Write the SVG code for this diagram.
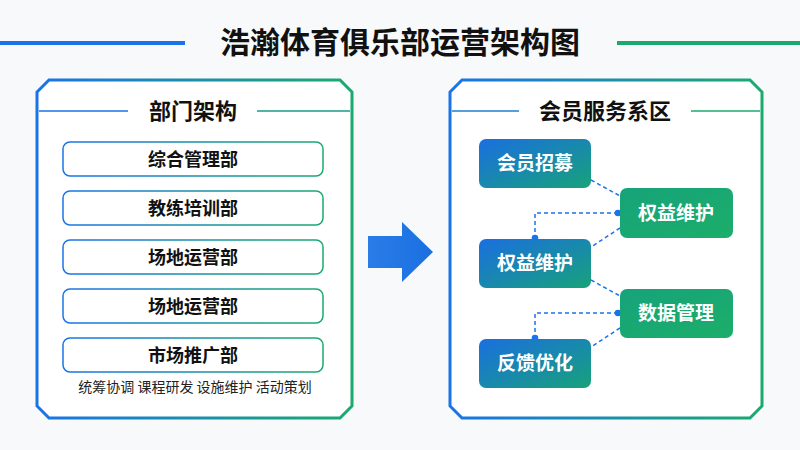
<svg xmlns="http://www.w3.org/2000/svg" width="800" height="450" viewBox="0 0 800 450">
<defs>
<linearGradient id="g" x1="0" y1="0" x2="1" y2="0"><stop offset="0" stop-color="#1a73e8"/><stop offset="1" stop-color="#1aaa6e"/></linearGradient>
<linearGradient id="gb" x1="0" y1="0" x2="1" y2="1"><stop offset="0" stop-color="#1a6fe0"/><stop offset="1" stop-color="#17a27a"/></linearGradient>
<linearGradient id="gg" x1="0" y1="0" x2="1" y2="1"><stop offset="0" stop-color="#16a37a"/><stop offset="1" stop-color="#1cae6a"/></linearGradient>
<linearGradient id="ga" x1="0" y1="0" x2="1" y2="0"><stop offset="0" stop-color="#2a7de8"/><stop offset="1" stop-color="#1a6fe0"/></linearGradient>
<marker id="dot" markerWidth="6" markerHeight="6" refX="3" refY="3"><circle cx="3" cy="3" r="2.2" fill="#1a73e8"/></marker>
</defs>
<style>
.t{font-family:"Noto Sans CJK SC",sans-serif;font-weight:bold;text-anchor:middle}
.ti{font-size:30px;fill:#111}
.h{font-size:22px;fill:#111}
.b{font-size:18px;fill:#111}
.w{font-size:19px;fill:#fff}
.s{font-family:"Noto Sans CJK SC",sans-serif;font-size:14px;fill:#222;text-anchor:middle}
.box{fill:#fff;stroke:url(#g);stroke-width:1.5}
.pan{fill:#fff;stroke:url(#g);stroke-width:3}
.c{fill:none;stroke:#1a73e8;stroke-width:1.5;stroke-dasharray:4 3}
</style>
<rect width="800" height="450" fill="#f7f9fa"/>
<g id="title">
<line x1="0" y1="43" x2="185" y2="43" stroke="#1a73e8" stroke-width="4"/>
<line x1="617" y1="43" x2="800" y2="43" stroke="#1aaa6e" stroke-width="4"/>
<text class="t ti" x="400" y="53">浩瀚体育俱乐部运营架构图</text>
</g>
<g id="left-panel">
<path class="pan" d="M49,80 H340 L352,92 V406 L340,418 H49 L37,406 V92 Z"/>
<line x1="39" y1="111" x2="128" y2="111" stroke="#1a73e8" stroke-width="1.5"/>
<line x1="257" y1="111" x2="350" y2="111" stroke="#1a9a8a" stroke-width="1.5"/>
<text class="t h" x="193" y="119">部门架构</text>
</g>
<g id="n1"><rect class="box" x="63" y="142" width="260" height="34" rx="7"/><text class="t b" x="193" y="166">综合管理部</text></g>
<g id="n2"><rect class="box" x="63" y="191" width="260" height="34" rx="7"/><text class="t b" x="193" y="215">教练培训部</text></g>
<g id="n3"><rect class="box" x="63" y="240" width="260" height="34" rx="7"/><text class="t b" x="193" y="264">场地运营部</text></g>
<g id="n4"><rect class="box" x="63" y="289" width="260" height="34" rx="7"/><text class="t b" x="193" y="313">场地运营部</text></g>
<g id="n5"><rect class="box" x="63" y="338" width="260" height="34" rx="7"/><text class="t b" x="193" y="362">市场推广部</text></g>
<text class="s" x="195" y="392">统筹协调  课程研发  设施维护  活动策划</text>
<g id="arrow"><path d="M368,236 H402 V222 L433,252 L402,282 V268 H368 Z" fill="url(#ga)"/></g>
<g id="right-panel">
<path class="pan" d="M462,80 H750 L762,92 V406 L750,418 H462 L450,406 V92 Z"/>
<line x1="452" y1="111" x2="519" y2="111" stroke="#1a80d0" stroke-width="1.5"/>
<line x1="691" y1="111" x2="760" y2="111" stroke="#1aaa6e" stroke-width="1.5"/>
<text class="t h" x="605" y="119">会员服务系区</text>
</g>
<g id="connectors">
<line class="c" x1="591" y1="180" x2="620" y2="196"/>
<polyline class="c" points="618,213 535,213 535,238" marker-start="url(#dot)" marker-end="url(#dot)"/>
<line class="c" x1="620" y1="228" x2="591" y2="247"/>
<line class="c" x1="591" y1="280" x2="620" y2="296"/>
<polyline class="c" points="618,313 535,313 535,338" marker-start="url(#dot)" marker-end="url(#dot)"/>
<line class="c" x1="620" y1="328" x2="591" y2="347"/>
</g>
<g id="r1"><rect x="479" y="139" width="112" height="49" rx="7" fill="url(#gb)"/><text class="t w" x="535" y="170">会员招募</text></g>
<g id="r2"><rect x="620" y="188" width="113" height="50" rx="7" fill="url(#gg)"/><text class="t w" x="676" y="220">权益维护</text></g>
<g id="r3"><rect x="479" y="239" width="112" height="49" rx="7" fill="url(#gb)"/><text class="t w" x="535" y="270">权益维护</text></g>
<g id="r4"><rect x="620" y="289" width="113" height="49" rx="7" fill="url(#gg)"/><text class="t w" x="676" y="320">数据管理</text></g>
<g id="r5"><rect x="479" y="339" width="112" height="49" rx="7" fill="url(#gb)"/><text class="t w" x="535" y="370">反馈优化</text></g>
</svg>
